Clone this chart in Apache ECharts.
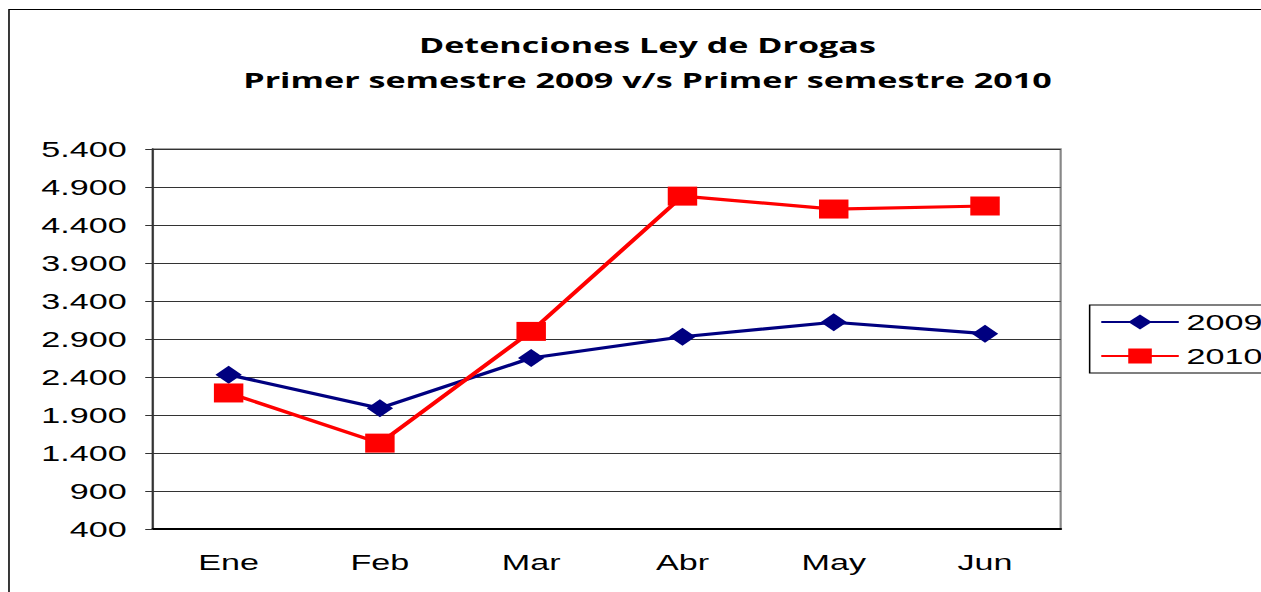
<!DOCTYPE html>
<html>
<head>
<meta charset="utf-8">
<script src="https://cdn.jsdelivr.net/npm/echarts@6/dist/echarts.min.js"></script>
<style>
  html, body { margin: 0; padding: 0; background: #fff; overflow: hidden; }
  /* the reference picture is stretched sideways, so the chart is too */
  #chart { width: 814px; height: 592px; transform: scaleX(1.55); transform-origin: 0 0; }
</style>
</head>
<body>
<div id="chart"></div>
<script>
const months = ['Ene', 'Feb', 'Mar', 'Abr', 'May', 'Jun'];
const values2009 = [2430, 1990, 2650, 2930, 3120, 2970];
const values2010 = [2190, 1530, 3000, 4780, 4610, 4650];
const titleLines = ['Detenciones Ley de Drogas', 'Primer semestre 2009 v/s Primer semestre 2010'];

const fmt = v => String(v).replace(/\B(?=(\d{3})+(?!\d))/g, '.');
const axisFont = { fontFamily: 'Liberation Sans, Arial, sans-serif', fontSize: 22, color: '#000' };

const myChart = echarts.init(document.getElementById('chart'), null, { renderer: 'svg' });
myChart.setOption({
  animation: false,
  backgroundColor: '#fff',
  title: {
    text: titleLines.join('\n'),
    left: 417.7,
    top: 27,
    padding: 0,
    textAlign: 'center',
    textStyle: { fontFamily: 'Open Sans', fontWeight: 'bold', fontSize: 22, lineHeight: 35, color: '#000' }
  },
  graphic: [{
    type: 'rect',
    shape: { x: 5.8, y: 9.5, width: 1000, height: 800 },
    style: { fill: 'none', stroke: '#000', lineWidth: 1 },
    silent: true
  }],
  legend: {
    orient: 'vertical',
    left: 703,
    top: 305,
    padding: [6, 10, 6, 6.5],
    itemWidth: 50,
    itemHeight: 19,
    itemGap: 12,
    borderColor: '#000',
    borderWidth: 1,
    textStyle: { fontFamily: 'Liberation Sans, Arial, sans-serif', fontSize: 22, color: '#000' },
    data: ['2009', '2010']
  },
  grid: {
    left: 98.7, right: 129.7, top: 149, bottom: 63,
    show: true, borderColor: '#888', borderWidth: 1.4
  },
  xAxis: {
    type: 'category',
    data: months,
    boundaryGap: true,
    axisLine: { lineStyle: { color: '#000', width: 2 } },
    axisTick: { length: 8, lineStyle: { color: '#555' } },
    axisLabel: Object.assign({ margin: 22 }, axisFont)
  },
  yAxis: {
    type: 'value',
    min: 400,
    max: 5400,
    interval: 500,
    axisLine: { show: true, lineStyle: { color: '#333', width: 1.3 } },
    axisTick: { show: true, length: 5, lineStyle: { color: '#333' } },
    axisLabel: Object.assign({ margin: 17, formatter: fmt }, axisFont),
    splitLine: { lineStyle: { color: '#333', width: 1 } }
  },
  series: [
    {
      name: '2009', type: 'line', data: values2009,
      symbol: 'diamond', symbolSize: [17, 18],
      lineStyle: { color: '#000080', width: 3.2 },
      itemStyle: { color: '#000080' }
    },
    {
      name: '2010', type: 'line', data: values2010,
      symbol: 'rect', symbolSize: 19,
      lineStyle: { color: '#ff0000', width: 3.2 },
      itemStyle: { color: '#ff0000' }
    }
  ]
});
</script>
</body>
</html>
